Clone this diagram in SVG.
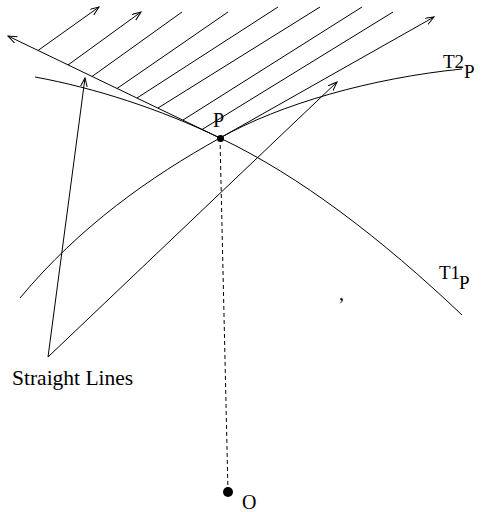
<svg xmlns="http://www.w3.org/2000/svg" width="483" height="512" viewBox="0 0 483 512">
<defs>
<marker id="arr" markerWidth="10" markerHeight="8" refX="9" refY="3.5" orient="auto" markerUnits="userSpaceOnUse">
<path d="M0,0 L9,3.5 L0,7" fill="none" stroke="#000" stroke-width="1"/>
</marker>
<style>
.ln{fill:none;stroke:#000;stroke-width:1}
.t{font-family:"Liberation Serif","Times New Roman",serif;fill:#000}
</style>
</defs>
<rect width="483" height="512" fill="#fff"/>
<g id="connectors">
<path class="ln" d="M35,77 C95,88 160,109 220,138 C300,176 382,239 462,315"/>
<path class="ln" d="M20,298 C80,226 150,177 220,138 C280,104 372,78 462,69"/>
<line class="ln" x1="220" y1="138" x2="8" y2="36" marker-end="url(#arr)"/>
<line class="ln" x1="220" y1="138" x2="434" y2="17" marker-end="url(#arr)"/>
<line class="ln" x1="38" y1="50.5" x2="99" y2="7" marker-end="url(#arr)"/>
<line class="ln" x1="68" y1="65" x2="141" y2="12" marker-end="url(#arr)"/>
<line class="ln" x1="92" y1="76.5" x2="182" y2="12"/>
<line class="ln" x1="117" y1="88.5" x2="228" y2="12"/>
<line class="ln" x1="137" y1="98" x2="278" y2="7"/>
<line class="ln" x1="158" y1="108" x2="320" y2="7"/>
<line class="ln" x1="183" y1="120" x2="362" y2="7"/>
<line class="ln" x1="202" y1="129.5" x2="393" y2="12"/>
<line class="ln" x1="48" y1="357" x2="85" y2="78" marker-end="url(#arr)"/>
<line class="ln" x1="48" y1="357" x2="337" y2="82" marker-end="url(#arr)"/>
<line class="ln" x1="220" y1="138" x2="228" y2="492" stroke-dasharray="4,3"/>
</g>
<g id="P">
<circle cx="220.5" cy="138.5" r="3.5" fill="#000"/>
<text class="t" x="213" y="127" font-size="20">P</text>
</g>
<g id="O">
<circle cx="228" cy="492" r="5" fill="#000"/>
<text class="t" x="242" y="509" font-size="20">O</text>
</g>
<g id="T2P">
<text class="t" x="443" y="68" font-size="19">T2</text>
<text class="t" x="464" y="78" font-size="19">P</text>
</g>
<g id="T1P">
<text class="t" x="439" y="279" font-size="19">T1</text>
<text class="t" x="459" y="289" font-size="19">P</text>
</g>
<g id="straight-lines">
<text class="t" x="12" y="385" font-size="21.5">Straight Lines</text>
</g>
<g id="comma">
<text class="t" x="339" y="300" font-size="20">,</text>
</g>
</svg>
